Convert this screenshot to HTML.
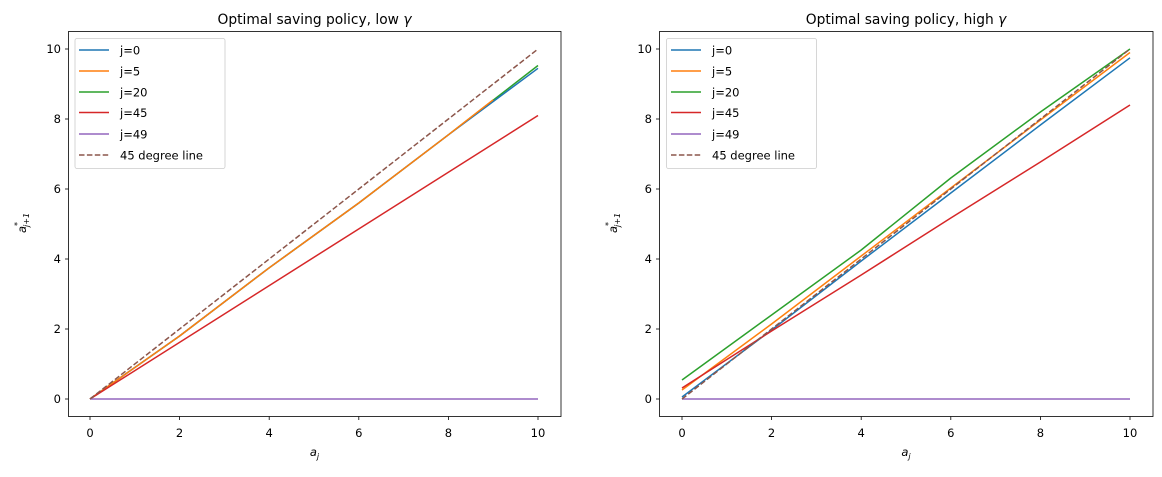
<!DOCTYPE html>
<html><head><style>
body{margin:0;background:#fff;}
svg text{font-family:"DejaVu Sans","Liberation Sans",sans-serif;fill:#000;}
</style></head><body>
<svg width="1162" height="472" viewBox="0 0 1162 472" xmlns="http://www.w3.org/2000/svg">
<rect width="1162" height="472" fill="#fff"/>

<!-- LEFT -->
<g font-size="11.5">
<text x="314.5" y="24" text-anchor="middle" font-size="13.8">Optimal saving policy, low <tspan font-style="italic">γ</tspan></text>
<g fill="none" stroke-width="1.5" stroke-linejoin="round">
 <polyline stroke="#2ca02c" points="90,399 179.6,336 269.2,267.8 358.8,203 448.4,134.8 538,65.5"/>
 <polyline stroke="#1f77b4" points="90,399 179.6,336 269.2,267.8 358.8,203 448.4,134.8 538,68.3"/>
 <polyline stroke="#ff7f0e" points="90,399 179.6,336 269.2,267.8 358.8,203 448.4,134.8 493.2,99.8"/>
 <polyline stroke="#d62728" points="90,399 538,115.5"/>
 <polyline stroke="#9467bd" points="90,399 538,399"/>
 <polyline stroke="#8c564b" stroke-dasharray="5.5,2.4" points="90,399 538,49"/>
</g>
<rect x="68.5" y="31.5" width="492.5" height="385" fill="none" stroke="#000" stroke-width="0.8"/>
<g stroke="#000" stroke-width="0.8">
 <line x1="90" y1="416.5" x2="90" y2="420"/><line x1="179.6" y1="416.5" x2="179.6" y2="420"/><line x1="269.2" y1="416.5" x2="269.2" y2="420"/><line x1="358.8" y1="416.5" x2="358.8" y2="420"/><line x1="448.4" y1="416.5" x2="448.4" y2="420"/><line x1="538" y1="416.5" x2="538" y2="420"/>
 <line x1="65" y1="399" x2="68.5" y2="399"/><line x1="65" y1="329" x2="68.5" y2="329"/><line x1="65" y1="259" x2="68.5" y2="259"/><line x1="65" y1="189" x2="68.5" y2="189"/><line x1="65" y1="119" x2="68.5" y2="119"/><line x1="65" y1="49" x2="68.5" y2="49"/>
</g>
<g text-anchor="middle">
 <text x="90" y="437">0</text><text x="179.6" y="437">2</text><text x="269.2" y="437">4</text><text x="358.8" y="437">6</text><text x="448.4" y="437">8</text><text x="538" y="437">10</text>
</g>
<g text-anchor="end">
 <text x="61" y="403">0</text><text x="61" y="333">2</text><text x="61" y="263">4</text><text x="61" y="193">6</text><text x="61" y="123">8</text><text x="61" y="53">10</text>
</g>
<text x="314.5" y="456" text-anchor="middle" font-style="italic">a<tspan font-size="8" dy="3">j</tspan></text>
<text transform="translate(26,223) rotate(-90)" text-anchor="middle" font-style="italic">a<tspan font-size="8" dy="-6">*</tspan><tspan font-size="8" dx="-5" dy="9">j+1</tspan></text>
<rect x="75" y="38.5" width="150" height="130" rx="2" fill="#fff" fill-opacity="0.8" stroke="#ccc" stroke-width="0.8"/>
<g stroke-width="1.5">
 <line x1="79" y1="50" x2="109" y2="50" stroke="#1f77b4"/>
 <line x1="79" y1="71" x2="109" y2="71" stroke="#ff7f0e"/>
 <line x1="79" y1="92" x2="109" y2="92" stroke="#2ca02c"/>
 <line x1="79" y1="112.5" x2="109" y2="112.5" stroke="#d62728"/>
 <line x1="79" y1="134" x2="109" y2="134" stroke="#9467bd"/>
 <line x1="79" y1="155" x2="109" y2="155" stroke="#8c564b" stroke-dasharray="5.5,2.4"/>
</g>
<text x="120" y="54.5">j=0</text><text x="120" y="75.5">j=5</text><text x="120" y="96.5">j=20</text><text x="120" y="117">j=45</text><text x="120" y="138.5">j=49</text><text x="120" y="159.5">45 degree line</text>
</g>

<!-- RIGHT -->
<g font-size="11.5">
<text x="906" y="24" text-anchor="middle" font-size="13.8">Optimal saving policy, high <tspan font-style="italic">γ</tspan></text>
<g fill="none" stroke-width="1.5" stroke-linejoin="round">
 <polyline stroke="#1f77b4" points="682,397 771.6,330 861.2,261 950.8,193 1040.4,125 1130,57.8"/>
 <polyline stroke="#ff7f0e" points="682,390 771.6,324 861.2,256 950.8,188 1040.4,120 1130,52.5"/>
 <polyline stroke="#2ca02c" points="682,380 771.6,315 861.2,250 950.8,178 1040.4,112 1130,49"/>
 <polyline stroke="#d62728" points="682,388 771.6,331 861.2,275 950.8,218 1040.4,162 1130,105"/>
 <polyline stroke="#9467bd" points="682,399 1130,399"/>
 <polyline stroke="#8c564b" stroke-dasharray="5.5,2.4" points="682,399 1130,49"/>
</g>
<rect x="659.5" y="31.5" width="493.5" height="385" fill="none" stroke="#000" stroke-width="0.8"/>
<g stroke="#000" stroke-width="0.8">
 <line x1="682" y1="416.5" x2="682" y2="420"/><line x1="771.6" y1="416.5" x2="771.6" y2="420"/><line x1="861.2" y1="416.5" x2="861.2" y2="420"/><line x1="950.8" y1="416.5" x2="950.8" y2="420"/><line x1="1040.4" y1="416.5" x2="1040.4" y2="420"/><line x1="1130" y1="416.5" x2="1130" y2="420"/>
 <line x1="656" y1="399" x2="659.5" y2="399"/><line x1="656" y1="329" x2="659.5" y2="329"/><line x1="656" y1="259" x2="659.5" y2="259"/><line x1="656" y1="189" x2="659.5" y2="189"/><line x1="656" y1="119" x2="659.5" y2="119"/><line x1="656" y1="49" x2="659.5" y2="49"/>
</g>
<g text-anchor="middle">
 <text x="682" y="437">0</text><text x="771.6" y="437">2</text><text x="861.2" y="437">4</text><text x="950.8" y="437">6</text><text x="1040.4" y="437">8</text><text x="1130" y="437">10</text>
</g>
<g text-anchor="end">
 <text x="652" y="403">0</text><text x="652" y="333">2</text><text x="652" y="263">4</text><text x="652" y="193">6</text><text x="652" y="123">8</text><text x="652" y="53">10</text>
</g>
<text x="906" y="456" text-anchor="middle" font-style="italic">a<tspan font-size="8" dy="3">j</tspan></text>
<text transform="translate(617,223) rotate(-90)" text-anchor="middle" font-style="italic">a<tspan font-size="8" dy="-6">*</tspan><tspan font-size="8" dx="-5" dy="9">j+1</tspan></text>
<rect x="666.5" y="38.5" width="150" height="130" rx="2" fill="#fff" fill-opacity="0.8" stroke="#ccc" stroke-width="0.8"/>
<g stroke-width="1.5">
 <line x1="671" y1="50" x2="701" y2="50" stroke="#1f77b4"/>
 <line x1="671" y1="71" x2="701" y2="71" stroke="#ff7f0e"/>
 <line x1="671" y1="92" x2="701" y2="92" stroke="#2ca02c"/>
 <line x1="671" y1="112.5" x2="701" y2="112.5" stroke="#d62728"/>
 <line x1="671" y1="134" x2="701" y2="134" stroke="#9467bd"/>
 <line x1="671" y1="155" x2="701" y2="155" stroke="#8c564b" stroke-dasharray="5.5,2.4"/>
</g>
<text x="712" y="54.5">j=0</text><text x="712" y="75.5">j=5</text><text x="712" y="96.5">j=20</text><text x="712" y="117">j=45</text><text x="712" y="138.5">j=49</text><text x="712" y="159.5">45 degree line</text>
</g>
</svg>
</body></html>
